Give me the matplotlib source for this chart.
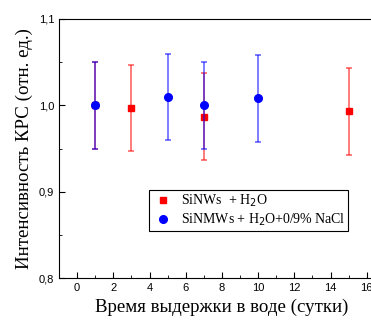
import numpy as np
import matplotlib.pyplot as plt
from matplotlib.ticker import MultipleLocator, FuncFormatter

# SiNWs + H2O (red squares)
days_w = [1, 3, 7, 15]
val_w = [1.0, 0.997, 0.987, 0.993]
err_w = [0.05, 0.05, 0.05, 0.05]

# SiNMWs + H2O + 0.9% NaCl (blue circles)
days_s = [1, 5, 7, 10]
val_s = [1.0, 1.01, 1.0, 1.008]
err_s = [0.05, 0.05, 0.05, 0.05]

fig = plt.figure(figsize=(3.71, 3.2), dpi=100)
# axes run past the right edge of the picture, like the cropped original
ax = fig.add_axes([59 / 371, 42 / 320, 18 * 18.1 / 371, 259 / 320])

ax.errorbar(days_w, val_w, yerr=err_w, fmt='none', ecolor='red', alpha=0.6,
            elinewidth=1.2, capsize=2.5, capthick=1.2)
ax.plot(days_w, val_w, 's', color='red', markersize=4.6, label='SiNWs  + H$_2$O')
ax.errorbar(days_s, val_s, yerr=err_s, fmt='none', ecolor='blue', alpha=0.6,
            elinewidth=1.2, capsize=2.5, capthick=1.2)
ax.plot(days_s, val_s, 'o', color='blue', markersize=5.5, label='SiNMWs + H$_2$O+0/9% NaCl')

ax.set_xlim(-1, 17)
ax.set_ylim(0.8, 1.1)
ax.xaxis.set_major_locator(MultipleLocator(2))
ax.xaxis.set_minor_locator(MultipleLocator(1))
ax.yaxis.set_major_locator(MultipleLocator(0.1))
ax.yaxis.set_minor_locator(MultipleLocator(0.05))
ax.yaxis.set_major_formatter(FuncFormatter(lambda v, p: f'{v:.1f}'.replace('.', ',')))
ax.tick_params(which='both', direction='in', labelsize=8)
ax.tick_params(which='major', length=4)
ax.tick_params(which='minor', length=2)
for lab in ax.get_xticklabels() + ax.get_yticklabels():
    lab.set_family('Liberation Sans')

ax.set_xlabel('Время выдержки в воде (сутки)', family='Liberation Serif', fontsize=13.6)
ax.set_ylabel('Интенсивность КРС (отн. ед.)', family='Liberation Serif', fontsize=13.6)

leg = ax.legend(loc='upper left', bbox_to_anchor=(149 / 371, 1 - 190 / 320),
                bbox_transform=fig.transFigure, prop={'family': 'Liberation Serif', 'size': 10},
                fancybox=False, edgecolor='black', framealpha=1, handletextpad=0.5,
                borderpad=0.2, labelspacing=0.2, handlelength=1.6, borderaxespad=0)
leg.get_frame().set_linewidth(0.8)

fig.savefig('out.png', dpi=100)
